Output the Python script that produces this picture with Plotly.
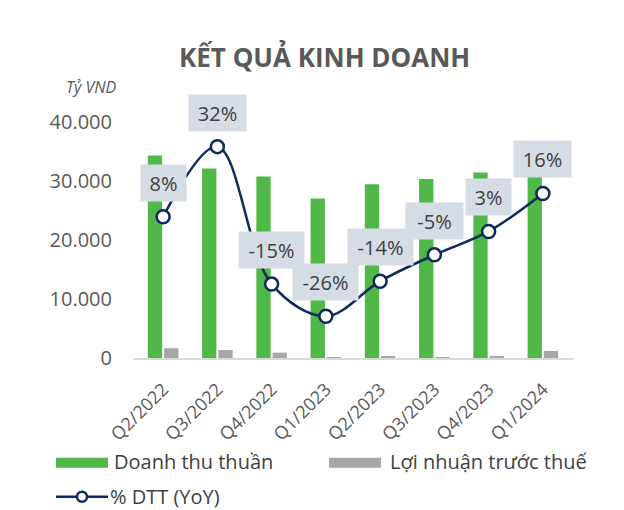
import plotly.graph_objects as go

# ---------------- data ----------------
quarters = ["Q2/2022", "Q3/2022", "Q4/2022", "Q1/2023", "Q2/2023", "Q3/2023", "Q4/2023", "Q1/2024"]
revenue = [34400, 32200, 30800, 27100, 29500, 30400, 31500, 31400]      # Doanh thu thuần
pretax_profit = [1650, 1350, 900, 100, 200, 150, 250, 1200]              # Lợi nhuận trước thuế
revenue_yoy = [8, 32, -15, -26, -14, -5, 3, 16]                          # % DTT (YoY)
yoy_labels = ["8%", "32%", "-15%", "-26%", "-14%", "-5%", "3%", "16%"]
y_ticks = [0, 10000, 20000, 30000, 40000]
y_tick_text = ["0", "10.000", "20.000", "30.000", "40.000"]

name_rev = "Doanh thu thuần"
name_pbt = "Lợi nhuận trước thuế"
name_yoy = "% DTT (YoY)"
title_text = "KẾT QUẢ KINH DOANH"
unit_text = "Tỷ VND"

# ---------------- style ----------------
W, H = 624, 510
L, R, T, B = 133, 51, 92.5, 152
GREEN = "#50B848"
GREY = "#A6A6A6"
NAVY = "#0B2A5E"
BOX = "#D6DCE4"
TXT = "#404040"
AX = "#595959"
FONT = "Open Sans"

pw, ph = W - L - R, H - T - B


def px(xp):
    return (xp - L) / pw


def py(yp):
    return (H - B - yp) / ph


fig = go.Figure()
fig.add_trace(go.Bar(x=quarters, y=revenue, name=name_rev, marker_color=GREEN,
                     marker_line_width=0, yaxis="y"))
fig.add_trace(go.Bar(x=quarters, y=pretax_profit, name=name_pbt, marker_color=GREY,
                     marker_line_width=0, yaxis="y"))
fig.add_trace(go.Scatter(x=quarters, y=revenue_yoy, name=name_yoy, yaxis="y2",
                         mode="lines+markers", line=dict(color=NAVY, width=2.5, shape="spline"),
                         marker=dict(size=13, color="white", line=dict(color=NAVY, width=2.5))))

annotations = []
for q, v, t in zip(quarters, revenue_yoy, yoy_labels):
    w = {2: 45, 3: 57, 4: 65}.get(len(t), 60)
    annotations.append(dict(x=q, y=v, xref="x", yref="y2", text=t, showarrow=False,
                            yanchor="bottom", yshift=15, width=w, height=36, borderpad=0,
                            bgcolor=BOX, font=dict(family=FONT, size=20, color=TXT)))

# title and unit
annotations.append(dict(x=px(324), y=py(56), xref="paper", yref="paper", text="<b>%s</b>" % title_text,
                        showarrow=False, xanchor="center", yanchor="middle",
                        font=dict(family=FONT, size=26, color=AX)))
annotations.append(dict(x=px(91), y=py(86), xref="paper", yref="paper", text="<i>%s</i>" % unit_text,
                        showarrow=False, xanchor="center", yanchor="middle",
                        font=dict(family=FONT, size=16, color=AX)))

# custom legend
shapes = []
legend_font = dict(family=FONT, size=20, color=TXT)
shapes.append(dict(type="rect", xref="paper", yref="paper", x0=px(56), x1=px(108), y0=py(468), y1=py(458),
                   fillcolor=GREEN, line_width=0))
annotations.append(dict(x=px(112), y=py(462), xref="paper", yref="paper", text=name_rev, showarrow=False,
                        xanchor="left", yanchor="middle", font=legend_font))
shapes.append(dict(type="rect", xref="paper", yref="paper", x0=px(329), x1=px(381), y0=py(468), y1=py(458),
                   fillcolor=GREY, line_width=0))
annotations.append(dict(x=px(388), y=py(462), xref="paper", yref="paper", text=name_pbt, showarrow=False,
                        xanchor="left", yanchor="middle", font=legend_font))
shapes.append(dict(type="line", xref="paper", yref="paper", x0=px(56), x1=px(108), y0=py(497), y1=py(497),
                   line=dict(color=NAVY, width=2.5)))
shapes.append(dict(type="circle", xref="paper", yref="paper", x0=px(77), x1=px(87), y0=py(502), y1=py(492),
                   fillcolor="white", line=dict(color=NAVY, width=2.5)))
annotations.append(dict(x=px(108), y=py(497), xref="paper", yref="paper", text=name_yoy, showarrow=False,
                        xanchor="left", yanchor="middle", font=legend_font))

fig.update_layout(
    width=W, height=H,
    margin=dict(l=L, r=R, t=T, b=B, pad=0),
    paper_bgcolor="white", plot_bgcolor="white",
    showlegend=False,
    barmode="group", bargap=0.4, bargroupgap=0.12,
    font=dict(family=FONT, color=AX),
    xaxis=dict(showgrid=False, showline=True, linecolor="#D9D9D9", linewidth=1.5,
               tickangle=-45, tickfont=dict(family=FONT, size=18, color=AX),
               ticks="", ticklabelshift=0, ticklabelstandoff=12, zeroline=False),
    yaxis=dict(range=[0, 45000], tickvals=y_ticks, ticktext=y_tick_text, showgrid=False,
               zeroline=False, showline=False, ticks="", ticklabelstandoff=20,
               tickfont=dict(family=FONT, size=20, color=AX)),
    yaxis2=dict(range=[-40.27, 50.34], overlaying="y", side="right", showgrid=False,
                zeroline=False, showticklabels=False, showline=False),
    annotations=annotations,
    shapes=shapes,
)

fig.write_html("out.html")
